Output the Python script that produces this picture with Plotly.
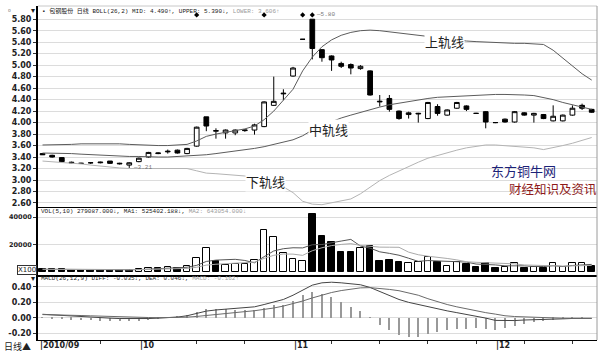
import plotly.graph_objects as go

W, H = 604, 358

# ---------------- data ----------------
days = list(range(58))
month_idx = [0, 10, 26, 47]
month_labels = ["2010/09", "10", "11", "12"]
week_idx = [6, 16, 21, 30, 35, 40, 45, 50, 55]

open_ = [3.46, 3.43, 3.39, 3.31, 3.29, 3.30, 3.30, 3.33, 3.28, 3.26,
         3.32, 3.40, 3.46, 3.49, 3.52, 3.46, 3.59, 4.10, 3.85, 3.82,
         3.82, 3.86, 3.87, 3.93, 4.30, 4.50, 4.81, 5.45, 5.80, 5.27,
         5.16, 5.03, 5.01, 4.94, 4.90, 4.36, 4.42, 4.20, 4.14, 4.15,
         4.07, 4.28, 4.13, 4.25, 4.29, 4.16, 4.19, 4.00, 4.06, 4.01,
         4.17, 4.13, 4.14, 4.03, 4.03, 4.13, 4.30, 4.23]
high = [3.47, 3.44, 3.40, 3.32, 3.30, 3.31, 3.32, 3.33, 3.30, 3.31,
        3.39, 3.49, 3.48, 3.53, 3.53, 3.56, 3.93, 4.10, 3.90, 3.88,
        3.88, 3.88, 3.98, 4.37, 4.80, 4.58, 4.97, 5.45, 5.80, 5.28,
        5.17, 5.06, 5.03, 5.00, 4.91, 4.48, 4.48, 4.21, 4.19, 4.17,
        4.36, 4.32, 4.23, 4.36, 4.30, 4.17, 4.20, 4.01, 4.07, 4.20,
        4.18, 4.17, 4.15, 4.30, 4.14, 4.30, 4.33, 4.24]
low = [3.44, 3.39, 3.31, 3.29, 3.28, 3.28, 3.29, 3.28, 3.27, 3.21,
       3.31, 3.39, 3.45, 3.46, 3.46, 3.45, 3.58, 3.85, 3.72, 3.72,
       3.78, 3.84, 3.79, 3.92, 4.29, 4.39, 4.80, 5.45, 5.10, 5.06,
       4.90, 4.95, 4.84, 4.92, 4.47, 4.28, 4.19, 4.05, 4.07, 4.00,
       4.06, 4.12, 4.12, 4.24, 4.20, 4.15, 3.90, 3.99, 4.00, 4.00,
       4.12, 4.00, 4.06, 4.02, 4.02, 4.12, 4.22, 4.17]
close = [3.44, 3.40, 3.32, 3.30, 3.29, 3.30, 3.31, 3.29, 3.29, 3.30,
         3.38, 3.48, 3.47, 3.50, 3.47, 3.55, 3.92, 3.94, 3.86, 3.87,
         3.87, 3.87, 3.96, 4.36, 4.37, 4.51, 4.95, 5.45, 5.29, 5.13,
         5.09, 4.98, 4.95, 4.98, 4.48, 4.37, 4.23, 4.07, 4.17, 4.16,
         4.35, 4.16, 4.22, 4.35, 4.23, 4.16, 4.01, 4.00, 4.01, 4.19,
         4.13, 4.16, 4.07, 4.11, 4.13, 4.25, 4.25, 4.18]

boll_upper = [3.61, 3.61, 3.62, 3.62, 3.63, 3.63, 3.64, 3.64, 3.63, 3.62,
              3.61, 3.60, 3.60, 3.60, 3.61, 3.62, 3.68, 3.76, 3.80, 3.83,
              3.86, 3.89, 3.94, 4.05, 4.20, 4.40, 4.58, 4.90, 5.14, 5.32,
              5.44, 5.52, 5.57, 5.60, 5.61, 5.60, 5.58, 5.56, 5.54, 5.52,
              5.49, 5.47, 5.45, 5.43, 5.42, 5.41, 5.40, 5.39, 5.39, 5.38,
              5.38, 5.37, 5.36, 5.26, 5.12, 4.98, 4.85, 4.74]
boll_mid = [3.47, 3.47, 3.46, 3.46, 3.45, 3.44, 3.44, 3.43, 3.42, 3.41,
            3.41, 3.40, 3.40, 3.40, 3.41, 3.41, 3.42, 3.44, 3.46, 3.48,
            3.50, 3.52, 3.55, 3.58, 3.62, 3.66, 3.70, 3.77, 3.87, 3.95,
            4.02, 4.08, 4.13, 4.18, 4.22, 4.27, 4.31, 4.34, 4.37, 4.40,
            4.42, 4.44, 4.45, 4.46, 4.47, 4.48, 4.49, 4.49, 4.49, 4.49,
            4.48, 4.47, 4.44, 4.40, 4.35, 4.31, 4.27, 4.23]
boll_lower = [3.33, 3.32, 3.31, 3.30, 3.28, 3.26, 3.24, 3.22, 3.21, 3.20,
              3.20, 3.20, 3.20, 3.20, 3.20, 3.20, 3.16, 3.12, 3.11, 3.10,
              3.09, 3.07, 3.05, 3.00, 2.95, 2.88, 2.78, 2.63, 2.58, 2.57,
              2.60, 2.63, 2.67, 2.76, 2.87, 2.99, 3.08, 3.16, 3.24, 3.31,
              3.38, 3.43, 3.48, 3.52, 3.56, 3.59, 3.61, 3.61, 3.60, 3.59,
              3.58, 3.56, 3.53, 3.56, 3.60, 3.64, 3.69, 3.74]

volume = [2000, 2200, 2000, 1700, 1500, 1500, 1500, 1700, 1500, 1700,
          2200, 3200, 2900, 3400, 3200, 4600, 10000, 17200, 8200, 4900,
          5800, 5800, 8700, 30500, 25700, 14000, 9200, 8200, 42000, 26400,
          21600, 14300, 14300, 17700, 18900, 8200, 8700, 7500, 6800, 7500,
          11100, 7500, 4600, 7300, 5600, 3900, 6300, 2700, 3900, 6300,
          3100, 3900, 2700, 6800, 3400, 6800, 6300, 4400]
vol_up = [0, 0, 0, 0, 0, 0, 0, 0, 0, 0,
          1, 1, 0, 1, 0, 1, 1, 1, 0, 1,
          1, 1, 1, 1, 1, 1, 1, 1, 0, 0,
          0, 0, 0, 1, 0, 0, 0, 0, 1, 1,
          1, 0, 1, 1, 0, 0, 0, 0, 1, 1,
          0, 1, 0, 1, 1, 1, 1, 0]
vol_ma5 = [2000, 2000, 2000, 1900, 1900, 1700, 1600, 1500, 1500, 1600,
           1720, 2060, 2300, 2680, 2980, 3460, 4820, 7680, 8640, 8980,
           9220, 8380, 6680, 11140, 15300, 16940, 17620, 17520, 19820, 19960,
           21480, 22500, 23720, 18860, 17360, 14680, 13560, 12200, 10020, 7740,
           8320, 8080, 7500, 7600, 7220, 5780, 5540, 5160, 4480, 4620,
           4460, 3980, 3980, 4560, 3980, 4720, 5200, 5540]
vol_ma10 = [2000, 1900, 1900, 1800, 1800, 1700, 1700, 1700, 1600, 1600,
            1750, 1850, 1940, 2110, 2280, 2590, 3440, 4990, 5660, 5980,
            6340, 6600, 7180, 9890, 12140, 13080, 13000, 12100, 15480, 17630,
            19210, 20060, 20620, 19340, 18660, 18080, 18030, 17960, 14440, 12550,
            11500, 10820, 9850, 8810, 7480, 7050, 6810, 6330, 6040, 5920,
            5120, 4760, 4570, 4520, 4300, 4590, 4590, 4760]

diff = [0.044, 0.036, 0.027, 0.020, 0.013, 0.006, 0.000, -0.006, -0.011, -0.014,
        -0.015, -0.011, -0.006, 0.000, 0.008, 0.025, 0.055, 0.085, 0.100, 0.108,
        0.115, 0.125, 0.140, 0.170, 0.205, 0.235, 0.290, 0.360, 0.420, 0.450,
        0.458, 0.450, 0.440, 0.425, 0.390, 0.335, 0.285, 0.235, 0.198, 0.168,
        0.140, 0.112, 0.088, 0.065, 0.043, 0.022, -0.005, -0.035, -0.040, -0.037,
        -0.030, -0.024, -0.020, -0.017, -0.015, -0.010, -0.007, -0.009]
dea = [0.040, 0.039, 0.036, 0.032, 0.028, 0.024, 0.019, 0.015, 0.011, 0.007,
       0.004, 0.002, 0.000, 0.000, 0.002, 0.007, 0.016, 0.030, 0.043, 0.055,
       0.066, 0.078, 0.090, 0.105, 0.125, 0.150, 0.180, 0.215, 0.255, 0.295,
       0.325, 0.350, 0.372, 0.385, 0.388, 0.380, 0.365, 0.348, 0.320, 0.290,
       0.245, 0.205, 0.170, 0.140, 0.113, 0.090, 0.065, 0.046, 0.025, 0.015,
       0.009, 0.004, 0.000, -0.005, -0.007, -0.008, -0.009, -0.009]
macd = [0.008, -0.006, -0.018, -0.024, -0.030, -0.036, -0.038, -0.042, -0.044, -0.042,
        -0.038, -0.026, -0.012, 0.000, 0.012, 0.036, 0.078, 0.110, 0.114, 0.106,
        0.098, 0.094, 0.100, 0.130, 0.160, 0.170, 0.220, 0.290, 0.330, 0.310,
        0.266, 0.200, 0.135, 0.080, 0.005, -0.090, -0.160, -0.225, -0.245, -0.245,
        -0.210, -0.185, -0.165, -0.150, -0.140, -0.135, -0.140, -0.162, -0.130, -0.105,
        -0.078, -0.055, -0.040, -0.025, -0.016, -0.005, 0.004, 0.000]

info_mine_idx = [16, 23, 27, 28]
info_mine_level = 5.875

price_ticks = [2.6, 2.8, 3.0, 3.2, 3.4, 3.6, 3.8, 4.0, 4.2, 4.4, 4.6, 4.8, 5.0, 5.2, 5.4, 5.6, 5.8]
vol_ticks = [20000, 40000]
macd_ticks = [-0.2, 0.0, 0.2, 0.4]


def px(x):
    return x / W


def py(y):
    return 1 - y / H


X_DOM = [px(38), px(597)]
X_RANGE = [-0.47, 57.55]
GRID = "#dcdcdc"
TICKFONT = dict(family="DejaVu Sans", size=8, color="#222", weight="bold")
MONO = "Liberation Mono, Noto Sans CJK SC"

fig = go.Figure()

# ---- price panel ----
fig.add_trace(go.Candlestick(
    x=days, open=open_, high=high, low=low, close=close,
    xaxis="x", yaxis="y", whiskerwidth=0,
    increasing=dict(line=dict(color="black", width=1), fillcolor="white"),
    decreasing=dict(line=dict(color="black", width=1), fillcolor="black"),
    showlegend=False, hoverinfo="skip"))
fig.add_trace(go.Scatter(x=days, y=boll_upper, mode="lines", xaxis="x", yaxis="y",
                         line=dict(color="#5c5c5c", width=1), showlegend=False, hoverinfo="skip"))
fig.add_trace(go.Scatter(x=days, y=boll_mid, mode="lines", xaxis="x", yaxis="y",
                         line=dict(color="#5c5c5c", width=1), showlegend=False, hoverinfo="skip"))
fig.add_trace(go.Scatter(x=days, y=boll_lower, mode="lines", xaxis="x", yaxis="y",
                         line=dict(color="#b4b4b4", width=1), showlegend=False, hoverinfo="skip"))
fig.add_trace(go.Scatter(x=info_mine_idx, y=[info_mine_level] * len(info_mine_idx), mode="markers",
                         xaxis="x", yaxis="y", marker=dict(symbol="diamond", size=4, color="black"),
                         showlegend=False, hoverinfo="skip"))

# ---- volume panel ----
fig.add_trace(go.Bar(x=days, y=volume, xaxis="x2", yaxis="y2", width=0.68,
                     marker=dict(color=["white" if u else "black" for u in vol_up],
                                 line=dict(color="black", width=1)),
                     showlegend=False, hoverinfo="skip"))
fig.add_trace(go.Scatter(x=days, y=vol_ma5, mode="lines", xaxis="x2", yaxis="y2",
                         line=dict(color="#555", width=1), showlegend=False, hoverinfo="skip"))
fig.add_trace(go.Scatter(x=days, y=vol_ma10, mode="lines", xaxis="x2", yaxis="y2",
                         line=dict(color="#aaa", width=1), showlegend=False, hoverinfo="skip"))

# ---- MACD panel ----
fig.add_trace(go.Bar(x=days, y=macd, xaxis="x3", yaxis="y3", width=0.12,
                     marker=dict(color="#999", line=dict(width=0)),
                     showlegend=False, hoverinfo="skip"))
fig.add_trace(go.Scatter(x=days, y=diff, mode="lines", xaxis="x3", yaxis="y3",
                         line=dict(color="#444", width=1), showlegend=False, hoverinfo="skip"))
fig.add_trace(go.Scatter(x=days, y=dea, mode="lines", xaxis="x3", yaxis="y3",
                         line=dict(color="#6a6a6a", width=1), showlegend=False, hoverinfo="skip"))

xcommon = dict(domain=X_DOM, range=X_RANGE, showgrid=False, zeroline=False,
               showticklabels=False, ticks="", showline=True, linecolor="black",
               rangeslider=dict(visible=False), fixedrange=True)

fig.update_layout(
    width=W, height=H, margin=dict(l=0, r=0, t=0, b=0),
    paper_bgcolor="white", plot_bgcolor="white", bargap=0, barmode="overlay",
    xaxis=dict(**xcommon, anchor="y", linewidth=1),
    xaxis2=dict(**xcommon, anchor="y2", matches="x", linewidth=2),
    xaxis3=dict(**{k: v for k, v in xcommon.items() if k not in ("ticks",)},
                anchor="y3", matches="x", linewidth=1,
                ticks="outside", ticklen=3, tickcolor="#333", tickvals=week_idx),
    yaxis=dict(domain=[py(207), py(6)], range=[2.53, 6.03], tickvals=price_ticks,
               ticktext=[f"{v:.2f}" for v in price_ticks], tickfont=TICKFONT,
               ticks="outside", ticklen=3, tickcolor="#333", showgrid=True, gridcolor=GRID,
               zeroline=False, showline=True, linecolor="black", linewidth=2,
               automargin=False, fixedrange=True),
    yaxis2=dict(domain=[py(275), py(207)], range=[-2180, 47270], tickvals=vol_ticks,
                ticktext=[str(v) for v in vol_ticks],
                tickfont=dict(family="DejaVu Sans", size=6.5, color="#222", weight="bold"),
                ticks="outside", ticklen=3, tickcolor="#333", showgrid=True, gridcolor=GRID,
                zeroline=False, showline=True, linecolor="black", linewidth=2,
                automargin=False, fixedrange=True),
    yaxis3=dict(domain=[py(340), py(275)], range=[-0.288, 0.551], tickvals=macd_ticks,
                ticktext=[f"{v:.2f}" for v in macd_ticks], tickfont=TICKFONT,
                ticks="outside", ticklen=3, tickcolor="#333", showgrid=True, gridcolor=GRID,
                zeroline=False, showline=True, linecolor="black", linewidth=2,
                automargin=False, fixedrange=True),
)

# frame lines
fig.add_shape(type="line", xref="paper", yref="paper", x0=px(38), x1=px(597), y0=py(6), y1=py(6),
              line=dict(color="#c8c8c8", width=1))
fig.add_shape(type="line", xref="paper", yref="paper", x0=px(597), x1=px(597), y0=py(6), y1=py(340),
              line=dict(color="#9a9a9a", width=1))

ann = []


def text(x, y, t, size=6, color="#222", family=MONO, xanchor="left", bg=None):
    d = dict(x=px(x), y=py(y), xref="paper", yref="paper", text=t, showarrow=False,
             xanchor=xanchor, yanchor="middle", font=dict(family=family, size=size, color=color))
    if bg:
        d.update(bgcolor=bg, borderpad=0)
    ann.append(d)


GREY = "#9a9a9a"
text(40, 11, "▪ 包钢股份 日线 BOLL(26,2) MID: 4.490↑, UPPER: 5.390↓, "
             f"<span style='color:{GREY}'>LOWER: 3.606↑</span>")
text(39, 211, "VOL(5,10) 279087.000↓, MA1: 525402.188↓, "
              f"<span style='color:{GREY}'>MA2: 643054.000↓</span>")
text(39, 278, "MACD(26,12,9) DIFF: -0.035↓, DEA: 0.046↓, "
              f"<span style='color:{GREY}'>MACD: -0.162↑</span>")
text(5, 10, "▫", size=8)
text(29, 10, "▾", size=8)
text(29, 278, "▾", size=8)

CJK = "Noto Sans CJK SC"
text(444, 41.5, "上轨线", size=13, color="#222", family=CJK, xanchor="center", bg="white")
text(328.5, 129, "中轨线", size=13, color="#222", family=CJK, xanchor="center", bg="white")
text(265, 181, "下轨线", size=13, color="#222", family=CJK, xanchor="center", bg="white")
text(523, 170.5, "东方铜牛网", size=13, color="#1c2278", family=CJK, xanchor="center")
text(553, 188, "财经知识及资讯", size=12.5, color="#8e1a1a", family=CJK, xanchor="center")

text(2, 346, "日线▲", size=9, color="#222", family=CJK)

ann.append(dict(x=px(27), y=py(269.5), xref="paper", yref="paper", text="X100", showarrow=False,
                xanchor="center", yanchor="middle",
                font=dict(family="DejaVu Sans", size=7, color="#222"),
                bordercolor="#333", borderwidth=1, borderpad=0, bgcolor="white"))

# price markers
ann.append(dict(x=9, y=3.21, xref="x", yref="y", text="─3.21", showarrow=False,
                xanchor="left", yanchor="middle", xshift=2,
                font=dict(family=MONO, size=6, color="#777")))
ann.append(dict(x=28, y=info_mine_level, xref="x", yref="y", text="─5.80", showarrow=False,
                xanchor="left", yanchor="middle", xshift=2,
                font=dict(family=MONO, size=6, color="#777")))

# month labels
for i, lab in zip(month_idx, month_labels):
    ann.append(dict(x=i, y=py(345.5), xref="x3", yref="paper", text="|" + lab, showarrow=False,
                    xanchor="left", yanchor="middle", xshift=-5 if i == 0 else -1,
                    font=dict(family="DejaVu Sans", size=8, color="#222", weight="bold")))

fig.update_layout(annotations=ann)
fig.write_html("out.html")
